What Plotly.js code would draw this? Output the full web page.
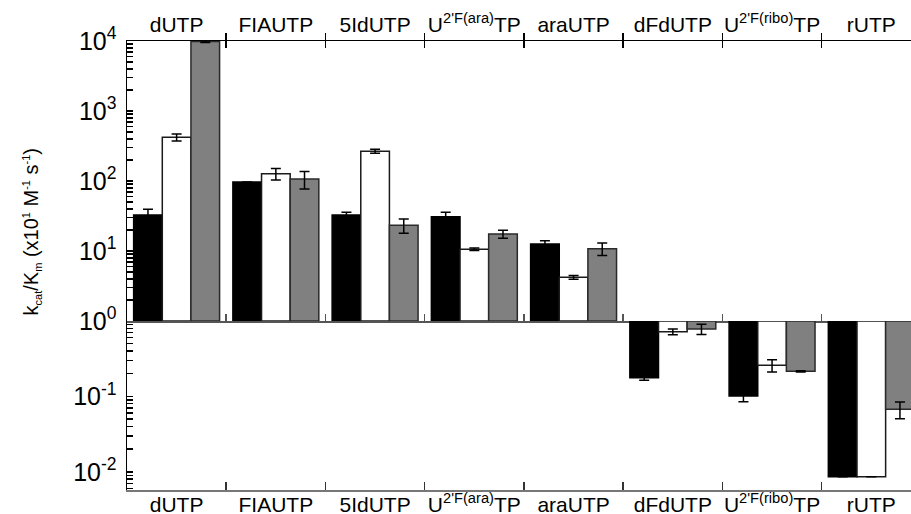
<!DOCTYPE html>
<html>
<head>
<meta charset="utf-8">
<script src="https://cdn.plot.ly/plotly-3.0.1.min.js"></script>
<style>
  html, body { margin: 0; padding: 0; background: #fff; }
  #chart { width: 911px; height: 514px; }
</style>
</head>
<body>
<div id="chart"></div>
<script>
// Nucleotide substrates along the x axis
const categories = [
  'dUTP', 'FIAUTP', '5IdUTP', "U<sup>2'F(ara)</sup>TP", 'araUTP',
  'dFdUTP', "U<sup>2'F(ribo)</sup>TP", 'rUTP'
];

// kcat/Km (x10^1 M^-1 s^-1) for the three enzymes, with error
const blackVals = [32.7, 96.8, 32.7, 30.9, 12.6, 0.177, 0.101, 0.0086];
const blackErr  = [6.7, null, 3.0, 4.8, 1.4, 0.013, 0.016, null];
const whiteVals = [421, 127, 266, 10.6, 4.21, 0.721, 0.258, 0.0086];
const whiteErr  = [48, 24, 17, 0.4, 0.25, 0.062, 0.048, null];
const greyVals  = [9800, 107, 23.3, 17.5, 10.8, 0.783, 0.215, 0.0675];
const greyErr   = [300, 30, 5.3, 2.3, 2.2, 0.12, 0.004, 0.017];

// Decade tick labels for the upper (>=1) and lower (<1) panels
const upperDecades = [1, 10, 100, 1000, 10000];
const upperDecadeText = ['10<sup>0</sup>', '10<sup>1</sup>', '10<sup>2</sup>', '10<sup>3</sup>', '10<sup>4</sup>'];
const lowerDecades = [0.1, 0.01];
const lowerDecadeText = ['10<sup>-1</sup>', '10<sup>-2</sup>'];

const BASE = 1;   // bars start at kcat/Km = 1
const xIdx = categories.map((_, i) => i);
const centers = xIdx;
const bounds = xIdx.slice(1).map(i => i - 0.5);
const xRange = [-0.5, 7.40];

// decade ticks carry a label, the 2..9 ticks in between are unlabeled
function logTicks(decades, labels, minorFrom) {
  const vals = decades.slice(), text = labels.slice();
  minorFrom.forEach(d => {
    for (let k = 2; k <= 9; k++) { vals.push(k * d); text.push(''); }
  });
  return { vals, text };
}
const upperTicks = logTicks(upperDecades, upperDecadeText, [1, 10, 100, 1000]);
const lowerTicks = logTicks(lowerDecades, lowerDecadeText, [0.001, 0.01, 0.1]);

const series = [
  { vals: blackVals, err: blackErr, fill: '#000000', edge: '#000000' },
  { vals: whiteVals, err: whiteErr, fill: '#ffffff', edge: '#1a1a1a' },
  { vals: greyVals,  err: greyErr,  fill: '#808080', edge: '#2a2a2a' }
];

// bar length measured from the base; bar ends at the value itself
function barTrace(s, keep, xa, ya) {
  return {
    type: 'bar', x: xIdx, base: BASE,
    y: s.vals.map(v => keep(v) ? v - BASE : null),
    error_y: { type: 'data', array: s.err.map((e, i) => keep(s.vals[i]) ? e : null),
               color: '#000', thickness: 1.5, width: 5 },
    marker: { color: s.fill, line: { color: s.edge, width: 1.5 } },
    xaxis: xa, yaxis: ya, hoverinfo: 'skip'
  };
}

const traces = [];
series.forEach(s => traces.push(barTrace(s, v => v >= BASE, 'x', 'y')));
series.forEach(s => traces.push(barTrace(s, v => v < BASE, 'x2', 'y2')));
// empty traces so the overlaid frame and label axes get drawn
[['x3', 'y'], ['x4', 'y'], ['x5', 'y'], ['x6', 'y2']].forEach(p =>
  traces.push({ type: 'scatter', x: [], y: [], xaxis: p[0], yaxis: p[1], hoverinfo: 'skip' }));

const SPLIT = 169 / 449;
const FAM = 'Liberation Sans';
const font = { family: FAM, color: '#000' };
const plain = { showgrid: false, zeroline: false, fixedrange: true };
const catFont = { size: 21, family: FAM, color: '#000' };
const decFont = { size: 25, family: FAM, color: '#000' };

// small sub/superscripts in the axis title
const small = t => '<span style="font-size:11px">' + t + '</span>';
const yTitle = 'k<sub>' + small('cat') + '</sub>/K<sub>' + small('m') + '</sub> (x10<sup>' +
  small('1') + '</sup> M<sup>' + small('-1') + '</sup> s<sup>' + small('-1') + '</sup>)';

const layout = {
  width: 911, height: 514,
  margin: { l: 127, r: 0, t: 41, b: 24, pad: 0 },
  paper_bgcolor: '#fff', plot_bgcolor: 'rgba(0,0,0,0)',
  showlegend: false,
  barmode: 'group', bargap: 0.134, bargroupgap: 0,
  font: font,
  // baseline of the upper panel
  xaxis: Object.assign({}, plain, {
    range: xRange, anchor: 'y', showline: true, linecolor: '#555', linewidth: 1.5,
    ticks: 'inside', tickvals: bounds, ticklen: 7, tickcolor: '#555', tickwidth: 1.5,
    showticklabels: false
  }),
  // bottom axis of the lower panel
  xaxis2: Object.assign({}, plain, {
    range: xRange, anchor: 'y2', showline: true, linecolor: '#777', linewidth: 1.5,
    ticks: 'inside', tickvals: bounds, ticklen: 8, tickcolor: '#333', tickwidth: 1.5,
    showticklabels: false
  }),
  // top frame line with separators crossing it
  xaxis3: Object.assign({}, plain, {
    range: xRange, overlaying: 'x', anchor: 'y', side: 'top',
    showline: true, linecolor: '#000', linewidth: 1.5,
    ticks: 'outside', tickvals: bounds, ticklen: 7, tickcolor: '#000', tickwidth: 1.5,
    showticklabels: false
  }),
  xaxis4: Object.assign({}, plain, {
    range: xRange, overlaying: 'x', anchor: 'y', side: 'top', showline: false,
    ticks: 'inside', tickvals: bounds, ticklen: 7, tickcolor: '#000', tickwidth: 1.5,
    showticklabels: false
  }),
  // category names above
  xaxis5: Object.assign({}, plain, {
    range: xRange, overlaying: 'x', anchor: 'y', side: 'top', showline: false,
    ticks: '', tickvals: centers, ticktext: categories,
    tickfont: catFont, ticklabelstandoff: 4
  }),
  // category names below
  xaxis6: Object.assign({}, plain, {
    range: xRange, overlaying: 'x2', anchor: 'y2', side: 'bottom', showline: false,
    ticks: '', tickvals: centers, ticktext: categories,
    tickfont: catFont, ticklabelstandoff: 0
  }),
  yaxis: Object.assign({}, plain, {
    domain: [SPLIT, 1], type: 'log', range: [0, 4], anchor: 'x',
    showline: true, linecolor: '#000', linewidth: 1.5,
    ticks: 'inside', ticklen: 6, tickwidth: 1.5, tickcolor: '#000',
    tickmode: 'array', tickvals: upperTicks.vals, ticktext: upperTicks.text,
    tickfont: decFont, ticklabelstandoff: 4
  }),
  yaxis2: Object.assign({}, plain, {
    domain: [0, SPLIT], type: 'log', range: [-2.241, 0], anchor: 'x2',
    showline: true, linecolor: '#000', linewidth: 1.5,
    ticks: 'inside', ticklen: 6, tickwidth: 1.5, tickcolor: '#000',
    tickmode: 'array', tickvals: lowerTicks.vals, ticktext: lowerTicks.text,
    tickfont: decFont, ticklabelstandoff: 4
  }),
  annotations: [{
    xref: 'paper', yref: 'paper', x: -0.121, y: 0.574,
    xanchor: 'center', yanchor: 'middle', textangle: -90, showarrow: false,
    text: yTitle,
    font: { size: 20, family: FAM, color: '#000' }
  }]
};

Plotly.newPlot('chart', traces, layout, { staticPlot: true, displayModeBar: false });
</script>
</body>
</html>
